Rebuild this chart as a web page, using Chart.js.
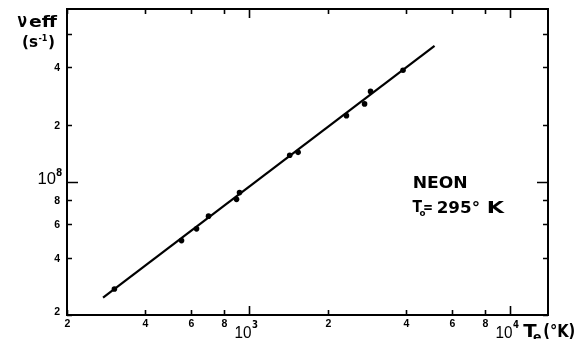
<!DOCTYPE html>
<html><head><meta charset="utf-8">
<script src="https://cdn.jsdelivr.net/npm/chart.js@4"></script>
<style>html,body{margin:0;padding:0;background:#fff;overflow:hidden}#wrap{width:581px;height:339px;position:relative}</style>
</head><body><div id="wrap"><canvas id="c" width="581" height="339"></canvas></div>
<script>
// Measured data (NEON, To = 295 K)
const tempK  = [304, 550, 628, 698, 894, 918, 1430, 1540, 2360, 2770, 2920, 3890];
const nuEff  = [2.74e7, 4.92e7, 5.67e7, 6.61e7, 8.1e7, 8.79e7, 1.38e8, 1.43e8, 2.23e8, 2.57e8, 2.99e8, 3.86e8];
// Fitted straight line (log-log)
const fitT   = [275, 5140];
const fitNu  = [2.47e7, 5.19e8];
// Axes
const xRange = [200, 14000];
const yRange = [2e7, 8.1e8];
const xTickValues = [200, 400, 600, 800, 1000, 2000, 4000, 6000, 8000, 10000];
const xTickLabels = ['2', '4', '6', '8', '10^3', '2', '4', '6', '8', '10^4'];
const xMajorTicks = [1000, 10000];
const yTickValues = [2e7, 4e7, 6e7, 8e7, 1e8, 2e8, 4e8, 6e8];
const yTickLabels = ['2', '4', '6', '8', '10^8', '2', '4', ''];
const yMajorTicks = [1e8];
const yTitle = 'ν eff';
const yUnit = ['(s', '-1', ')'];
const xTitle = ['T', 'e', '(°K)'];
const noteGas = 'NEON';
const noteTemp = ['T', 'o', '=', '295°', 'K'];

const BOLD = '"DejaVu Sans", sans-serif';
const REG = '"Liberation Sans", Arial, sans-serif';

function fitText(ctx, s, x, y, font, width, align) {
  ctx.save();
  ctx.font = font;
  ctx.textBaseline = 'alphabetic';
  ctx.textAlign = 'left';
  const w = ctx.measureText(s).width;
  const k = width ? width / w : 1;
  const x0 = align === 'right' ? x - w * k : (align === 'center' ? x - w * k / 2 : x);
  ctx.translate(x0, y);
  ctx.scale(k, 1);
  ctx.fillText(s, 0, 0);
  ctx.restore();
  return w * k;
}

const decor = {
  id: 'decor',
  afterDraw(chart) {
    const ctx = chart.ctx;
    const a = chart.chartArea;
    const xs = chart.scales.x, ys = chart.scales.y;
    ctx.save();
    ctx.fillStyle = '#000';
    ctx.strokeStyle = '#000';
    // frame
    ctx.lineWidth = 2;
    ctx.strokeRect(a.left, a.top, a.right - a.left, a.bottom - a.top);
    // x ticks (bottom and top, inward)
    ctx.lineWidth = 1.6;
    xTickValues.forEach((v, i) => {
      const px = Math.round(xs.getPixelForValue(v)) + 0.5;
      const len = xMajorTicks.includes(v) ? 9 : 5;
      ctx.beginPath();
      ctx.moveTo(px, a.bottom); ctx.lineTo(px, a.bottom - len);
      ctx.moveTo(px, a.top); ctx.lineTo(px, a.top + len);
      ctx.stroke();
      const lab = xTickLabels[i];
      if (!lab) return;
      if (lab.includes('^')) {
        const [b, s] = lab.split('^');
        fitText(ctx, b, px + 2, 338, '16px ' + REG, 17, 'right');
        fitText(ctx, s, px + 2.5, 327.5, 'bold 10px ' + BOLD, 6);
      } else {
        fitText(ctx, lab, px, 326.5, 'bold 10.5px ' + REG, null, 'center');
      }
    });
    // y ticks (left and right, inward)
    yTickValues.forEach((v, i) => {
      const py = Math.round(ys.getPixelForValue(v)) + 0.5;
      const len = yMajorTicks.includes(v) ? 11 : 5;
      ctx.beginPath();
      ctx.moveTo(a.left, py); ctx.lineTo(a.left + len, py);
      ctx.moveTo(a.right, py); ctx.lineTo(a.right - len, py);
      ctx.stroke();
      const lab = yTickLabels[i];
      if (!lab) return;
      if (lab.includes('^')) {
        const [b, s] = lab.split('^');
        fitText(ctx, b, 56, py + 1.5, '16px ' + REG, 18.5, 'right');
        fitText(ctx, s, 56, py - 7, 'bold 10px ' + BOLD, 6.3);
      } else {
        const off = v === yRange[0] ? -4 : 0;
        fitText(ctx, lab, 60, py + 3.8 + off, 'bold 10.5px ' + REG, null, 'right');
      }
    });
    // y title
    const [nu, eff] = yTitle.split(' ');
    fitText(ctx, nu, 17.5, 27, 'bold 20px ' + BOLD, 9.5);
    fitText(ctx, eff, 29, 27, 'bold 15px ' + BOLD, 28);
    let x = 22;
    x += fitText(ctx, yUnit[0], x, 47, 'bold 15px ' + BOLD, 16);
    x += fitText(ctx, yUnit[1], x + 0.5, 41, 'bold 9px ' + BOLD, 9) + 1;
    fitText(ctx, yUnit[2], x, 47, 'bold 15px ' + BOLD, 7);
    // x title
    fitText(ctx, xTitle[0], 523.3, 337, 'bold 17px ' + BOLD, 13.4);
    fitText(ctx, xTitle[1], 533, 341, 'bold 12px ' + BOLD, 8.5);
    fitText(ctx, xTitle[2], 543.3, 337, 'bold 17px ' + BOLD, 32);
    // annotation
    fitText(ctx, noteGas, 412.7, 188.3, 'bold 16px ' + BOLD, 55);
    fitText(ctx, noteTemp[0], 412.5, 212, 'bold 15px ' + BOLD, 9.5);
    fitText(ctx, noteTemp[1], 419.5, 215.5, 'bold 9px ' + BOLD, 6);
    fitText(ctx, noteTemp[2], 423, 212, 'bold 15px ' + BOLD, 10);
    fitText(ctx, noteTemp[3], 436.7, 213, 'bold 16px ' + BOLD, 43.3);
    fitText(ctx, noteTemp[4], 486.7, 213, 'bold 16px ' + BOLD, 17.3);
    ctx.restore();
  }
};

new Chart(document.getElementById('c'), {
  type: 'scatter',
  data: {
    datasets: [
      {
        data: fitT.map((t, i) => ({ x: t, y: fitNu[i] })),
        showLine: true,
        borderColor: '#000',
        borderWidth: 2.2,
        pointRadius: 0,
        fill: false
      },
      {
        data: tempK.map((t, i) => ({ x: t, y: nuEff[i] })),
        showLine: false,
        pointRadius: 2.8,
        pointBackgroundColor: '#000',
        pointBorderColor: '#000',
        pointBorderWidth: 0
      }
    ]
  },
  options: {
    responsive: false,
    devicePixelRatio: 1,
    animation: false,
    layout: { padding: { left: 67, right: 33, top: 9, bottom: 24 } },
    plugins: { legend: { display: false }, tooltip: { enabled: false } },
    scales: {
      x: { type: 'logarithmic', min: xRange[0], max: xRange[1], display: false },
      y: { type: 'logarithmic', min: yRange[0], max: yRange[1], display: false }
    }
  },
  plugins: [decor]
});
</script>
</body></html>
